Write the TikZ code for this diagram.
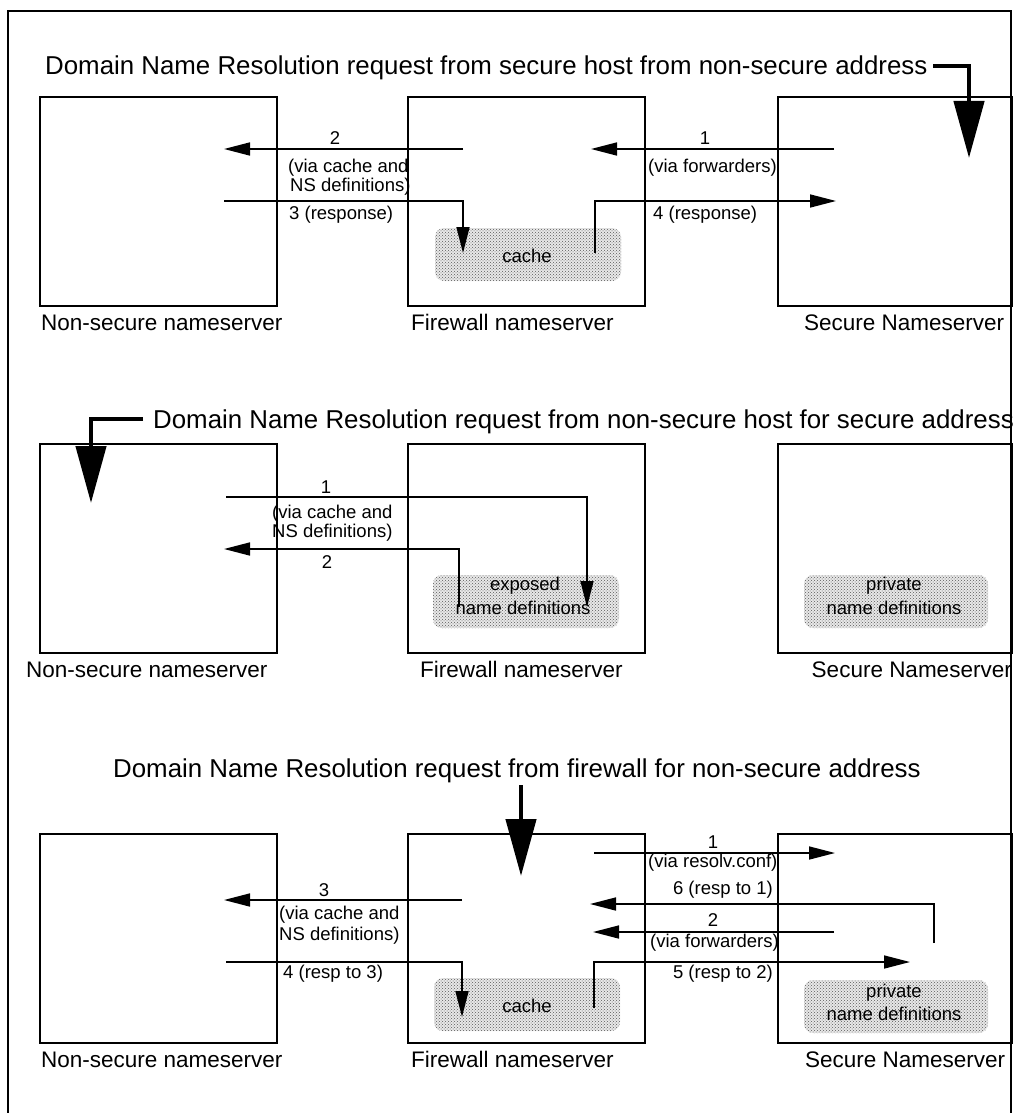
\documentclass[tikz,border=0pt]{standalone}
\usepackage{fontspec}
\setmainfont{Liberation Sans}
\usetikzlibrary{arrows.meta,patterns}
\begin{document}
\begin{tikzpicture}[x=1pt,y=-1pt,
  srv/.style={draw,line width=1.8pt,anchor=north west,inner sep=0pt,outer sep=0pt,minimum height=209pt},
  store/.style={preaction={fill=gray!18,rounded corners=9pt},pattern=crosshatch dots,pattern color=black!65,rounded corners=9pt,anchor=north west,inner sep=0pt,outer sep=0pt,minimum width=186pt,minimum height=53pt},
  hd/.style={font=\fontsize{25.85}{28}\selectfont,inner sep=0pt,anchor=base west},
  lbl/.style={font=\fontsize{22.5}{25}\selectfont,inner sep=0pt,anchor=base west},
  sm/.style={font=\fontsize{18.5}{20}\selectfont,inner sep=0pt},
  sarrow/.style={line width=1.6pt,-{Triangle[length=26pt,width=13pt]}},
  barrow/.style={line width=4.5pt,-{Triangle[length=57pt,width=30pt]}}
]
\useasboundingbox (0,0) rectangle (1016,1113);
% outer frame
\coordinate (fBL) at (8,1113);
\coordinate (fTL) at (8,11);
\coordinate (fTR) at (1011,11);
\coordinate (fBR) at (1011,1113);
\draw[line width=1.5pt] (fBL) -- (fTL) -- (fTR) -- (fBR);

%================ Section 1
\node[hd] (hA) at (45,75) {Domain Name Resolution request from secure host from non-secure address};
\coordinate (hA0) at (933,66);
\coordinate (hA1) at (969,66);
\coordinate (hA2) at (969,158);
\draw[barrow] (hA0) -- (hA1) -- (hA2);

\node[srv,minimum width=237pt] (nsA) at (40,97) {};
\node[srv,minimum width=237pt] (fwA) at (408,97) {};
\node[srv,minimum width=234pt] (secA) at (778,97) {};
\node[lbl] (nsAl) at (41,330) {Non-secure nameserver};
\node[lbl] (fwAl) at (411,330) {Firewall nameserver};
\node[lbl] (secAl) at (804,330) {Secure Nameserver};

\node[store] (cacheA) at (435,228) {};
\node[sm,anchor=base] (cacheAt) at (527,262) {cache};

% arrow 2
\coordinate (a2s) at (463,149);
\coordinate (a2e) at (224,149);
\draw[sarrow] (a2s) -- (a2e);
\node[sm,anchor=base] (a2l) at (335,145) {2};
\node[sm,anchor=base west] (a2m) at (288,172) {(via cache and};
\node[sm,anchor=base west] (a2n) at (290,191) {NS definitions)};
% arrow 3
\coordinate (a3s) at (224,201);
\coordinate (a3c) at (463,201);
\coordinate (a3e) at (463,253);
\draw[sarrow] (a3s) -- (a3c) -- (a3e);
\node[sm,anchor=base west] (a3l) at (289,219) {3 (response)};
% arrow 1
\coordinate (a1s) at (834,149);
\coordinate (a1e) at (591,149);
\draw[sarrow] (a1s) -- (a1e);
\node[sm,anchor=base] (a1l) at (705,145) {1};
\node[sm,anchor=base west] (a1m) at (648,172) {(via forwarders)};
% arrow 4
\coordinate (a4s) at (595,253);
\coordinate (a4c) at (595,201);
\coordinate (a4e) at (836,201);
\draw[sarrow] (a4s) -- (a4c) -- (a4e);
\node[sm,anchor=base west] (a4l) at (653,219) {4 (response)};

%================ Section 2
\node[hd] (hB) at (153,428) {Domain Name Resolution request from non-secure host for secure address};
\coordinate (hB0) at (143,419);
\coordinate (hB1) at (91,419);
\coordinate (hB2) at (91,503);
\draw[barrow] (hB0) -- (hB1) -- (hB2);

\node[srv,minimum width=237pt] (nsB) at (40,444) {};
\node[srv,minimum width=237pt] (fwB) at (408,444) {};
\node[srv,minimum width=234pt] (secB) at (778,444) {};
\node[lbl] (nsBl) at (26,677) {Non-secure nameserver};
\node[lbl] (fwBl) at (420,677) {Firewall nameserver};
\node[lbl,anchor=base east] (secBl) at (1012,677) {Secure Nameserver};

\node[store] (expB) at (433,575) {};
\node[sm,anchor=base] (expBt1) at (525,590) {exposed};
\node[sm,anchor=base] (expBt2) at (523,614) {name definitions};
\node[store,minimum width=184pt] (privB) at (804,575) {};
\node[sm,anchor=base] (privBt1) at (894,590) {private};
\node[sm,anchor=base] (privBt2) at (894,614) {name definitions};

% arrow 1
\coordinate (b1s) at (226,497);
\coordinate (b1c) at (587,497);
\coordinate (b1e) at (587,607);
\draw[sarrow] (b1s) -- (b1c) -- (b1e);
\node[sm,anchor=base] (b1l) at (326,493) {1};
\node[sm,anchor=base west] (b1m) at (272,518) {(via cache and};
\node[sm,anchor=base west] (b1n) at (272,537) {NS definitions)};
% arrow 2
\coordinate (b2s) at (459,607);
\coordinate (b2c) at (459,549);
\coordinate (b2e) at (224,549);
\draw[sarrow] (b2s) -- (b2c) -- (b2e);
\node[sm,anchor=base] (b2l) at (327,568) {2};

%================ Section 3
\node[hd] (hC) at (113,777) {Domain Name Resolution request from firewall for non-secure address};
\coordinate (hC0) at (521,785);
\coordinate (hC1) at (521,876);
\draw[barrow] (hC0) -- (hC1);

\node[srv,minimum width=237pt] (nsC) at (40,834) {};
\node[srv,minimum width=237pt] (fwC) at (408,834) {};
\node[srv,minimum width=234pt] (secC) at (778,834) {};
\node[lbl] (nsCl) at (41,1067) {Non-secure nameserver};
\node[lbl] (fwCl) at (411,1067) {Firewall nameserver};
\node[lbl] (secCl) at (805,1067) {Secure Nameserver};

\node[store] (cacheC) at (434,978) {};
\node[sm,anchor=base] (cacheCt) at (527,1012) {cache};
\node[store,minimum width=184pt] (privC) at (804,980) {};
\node[sm,anchor=base] (privCt1) at (894,997) {private};
\node[sm,anchor=base] (privCt2) at (894,1020) {name definitions};

% arrow 3
\coordinate (c3s) at (462,900);
\coordinate (c3e) at (224,900);
\draw[sarrow] (c3s) -- (c3e);
\node[sm,anchor=base] (c3l) at (324,896) {3};
\node[sm,anchor=base west] (c3m) at (279,919) {(via cache and};
\node[sm,anchor=base west] (c3n) at (279,940) {NS definitions)};
% arrow 4
\coordinate (c4s) at (226,962);
\coordinate (c4c) at (462,962);
\coordinate (c4e) at (462,1017);
\draw[sarrow] (c4s) -- (c4c) -- (c4e);
\node[sm,anchor=base west] (c4l) at (283,978) {4 (resp to 3)};
% arrow 5
\coordinate (c5s) at (594,1008);
\coordinate (c5c) at (594,962);
\coordinate (c5e) at (910,962);
\draw[sarrow] (c5s) -- (c5c) -- (c5e);
\node[sm,anchor=base east] (c5l) at (773,978) {5 (resp to 2)};
% arrow 1
\coordinate (c1s) at (594,853);
\coordinate (c1e) at (835,853);
\draw[sarrow] (c1s) -- (c1e);
\node[sm,anchor=base] (c1l) at (713,848) {1};
\node[sm,anchor=base west] (c1m) at (648,867) {(via resolv.conf)};
% arrow 6
\coordinate (c6s) at (934,943);
\coordinate (c6c) at (934,904);
\coordinate (c6e) at (590,904);
\draw[sarrow] (c6s) -- (c6c) -- (c6e);
\node[sm,anchor=base east] (c6l) at (773,894) {6 (resp to 1)};
% arrow 2
\coordinate (c2s) at (834,932);
\coordinate (c2e) at (593,932);
\draw[sarrow] (c2s) -- (c2e);
\node[sm,anchor=base] (c2l) at (713,926) {2};
\node[sm,anchor=base west] (c2m) at (650,947) {(via forwarders)};
\end{tikzpicture}
\end{document}
